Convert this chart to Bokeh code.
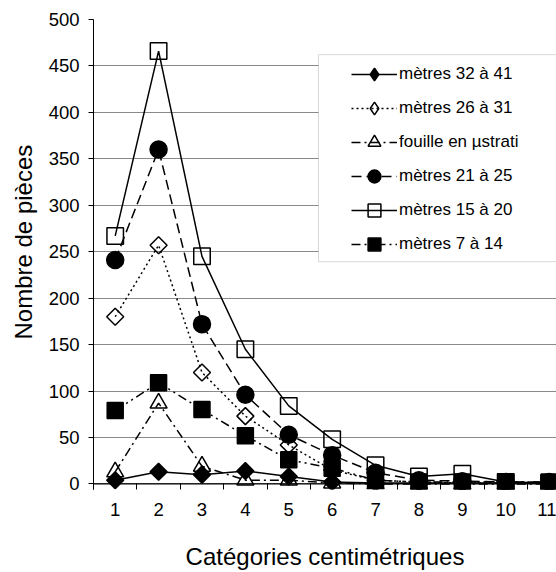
import math
from bokeh.plotting import figure
from bokeh.models import (FixedTicker, Span, BoxAnnotation, Legend, LegendItem, Title,
                          CDSView, IndexFilter, ColumnDataSource)
from bokeh.embed import file_html
from bokeh.resources import INLINE

categories = list(range(1, 12))
y_ticks = list(range(0, 501, 50))

series_names = ["mètres 32 à 41", "mètres 26 à 31", "fouille en µstrati",
                "mètres 21 à 25", "mètres 15 à 20", "mètres 7 à 14"]
m32_41 = [4, 13, 10, 14, 8, 2, 1, 1, 1, 1, 1]
m26_31 = [180, 257, 120, 73, 42, 15, 4, 2, 1, 1, 1]
fouille = [13, 87, 19, 4, 4, 1, 0, 0, 0, 0, 0]
m21_25 = [241, 360, 172, 96, 53, 31, 12, 4, 3, 2, 2]
m15_20 = [267, 466, 245, 145, 84, 48, 20, 8, 11, 2, 1]
m7_14 = [79, 109, 80, 52, 26, 17, 4, 2, 2, 2, 2]

FONT = "Liberation Sans"

p = figure(width=556, height=572, x_range=(0.5, 11.17), y_range=(-6, 500),
           output_backend="svg", toolbar_location=None,
           min_border_left=93, min_border_right=0, min_border_top=19,
           min_border_bottom=82)
p.outline_line_color = None
p.background_fill_color = "white"

# axes
p.xaxis.ticker = FixedTicker(ticks=categories,
                             minor_ticks=[c - 0.5 for c in categories])
p.xaxis.axis_line_color = None
p.xaxis.major_tick_line_color = None
p.xaxis.major_tick_in = 0
p.xaxis.major_tick_out = 0
p.xaxis.minor_tick_line_color = "black"
p.xaxis.minor_tick_in = 6
p.xaxis.minor_tick_out = 0
p.xaxis.major_label_standoff = 13
p.xaxis.major_label_text_font = FONT
p.xaxis.major_label_text_font_size = "18.5px"
p.xaxis.major_label_text_color = "black"
p.xaxis.axis_label = "Catégories centimétriques"
p.xaxis.axis_label_text_font = FONT
p.xaxis.axis_label_text_font_size = "24px"
p.xaxis.axis_label_text_font_style = "normal"
p.xaxis.axis_label_text_color = "black"
p.xaxis.axis_label_standoff = 24

p.yaxis.ticker = FixedTicker(ticks=y_ticks, minor_ticks=[])
p.yaxis.axis_line_color = "black"
p.yaxis.major_tick_line_color = "black"
p.yaxis.major_tick_in = 0
p.yaxis.major_tick_out = 5
p.yaxis.major_label_standoff = 9
p.yaxis.major_label_text_font = FONT
p.yaxis.major_label_text_font_size = "18.5px"
p.yaxis.major_label_text_color = "black"

p.xgrid.visible = False
p.ygrid.ticker = FixedTicker(ticks=y_ticks)
p.ygrid.grid_line_color = "#8a8a8a"
p.ygrid.grid_line_width = 1

p.add_layout(Span(location=0, dimension="width", line_color="black", line_width=1.2))

ytitle = Title(text="Nombre de pièces", align="left", offset=150,
               vertical_align="top",
               text_font=FONT, text_font_size="24px", text_font_style="normal",
               text_color="black", standoff=13)
p.add_layout(ytitle, "left")

# legend box
box = BoxAnnotation(left=225, right=470, bottom=227.8, top=434.8,
                    left_units="screen", right_units="screen",
                    bottom_units="screen", top_units="screen",
                    fill_color="white", fill_alpha=1,
                    line_color="#7f7f7f", line_width=1, level="annotation")
p.add_layout(box)

styles = [
    dict(data=m32_41, dash="solid", marker="square", angle=math.pi / 4, size=12, filled=True),
    dict(data=m26_31, dash="2 3", marker="square", angle=math.pi / 4, size=12, filled=False),
    dict(data=fouille, dash="9 4 2 4", marker="triangle", angle=0, size=17, filled=False),
    dict(data=m21_25, dash="10 5", marker="circle", angle=0, size=17, filled=True),
    dict(data=m15_20, dash="solid", marker="square", angle=0, size=16.5, filled=False),
    dict(data=m7_14, dash="9 4 2 4 2 4", marker="square", angle=0, size=16, filled=True),
]

items = []
for name, st in zip(series_names, styles):
    fill = "black" if st["filled"] else None
    src = ColumnDataSource(dict(x=categories, y=st["data"]))
    ln = p.line("x", "y", source=src, line_color="black", line_width=1.5,
                line_dash=st["dash"])
    sc = p.scatter("x", "y", source=src, marker=st["marker"], size=st["size"],
                   angle=st["angle"], line_color="black", line_width=1.5,
                   fill_color=fill)
    leg_r = [ln, sc]
    if st["angle"] != 0:
        # legend-only diamond glyph (legend markers are drawn unrotated);
        # zero size in the plot, the legend sizes its own marker
        dummy = p.scatter("x", "y", source=src, view=CDSView(filter=IndexFilter([0])),
                          marker="diamond", size=0,
                          line_color="black", line_width=1.5, fill_color=fill)
        leg_r = [ln, dummy]
    items.append(LegendItem(label=name, renderers=leg_r))

legend = Legend(items=items, location=(258, 228.8), orientation="vertical",
                glyph_width=46, glyph_height=32, label_height=32,
                spacing=2, padding=2, margin=0, label_standoff=2,
                label_text_font=FONT, label_text_font_size="17px",
                label_text_color="black", border_line_color=None,
                background_fill_alpha=0)
p.add_layout(legend, "center")

open("out.html", "w").write(file_html(p, INLINE))
